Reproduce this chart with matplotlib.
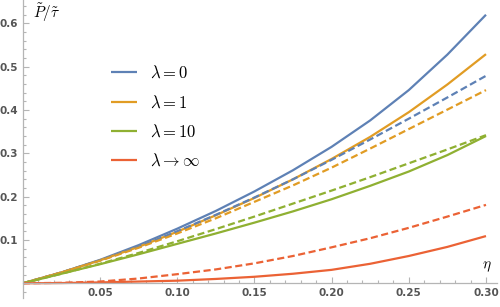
import matplotlib
matplotlib.use("Agg")
import matplotlib.pyplot as plt
from matplotlib.ticker import MultipleLocator, FixedLocator

plt.rcParams['mathtext.fontset'] = 'cm'

eta = [0.0, 0.025, 0.05, 0.075, 0.1, 0.125, 0.15, 0.175, 0.2, 0.225, 0.25, 0.275, 0.3]

# solid curves
p_l0 = [0, 0.025, 0.054, 0.088, 0.126, 0.167, 0.212, 0.261, 0.315, 0.376, 0.446, 0.528, 0.620]
p_l1 = [0, 0.025, 0.053, 0.084, 0.119, 0.157, 0.197, 0.240, 0.287, 0.338, 0.395, 0.459, 0.529]
p_l10 = [0, 0.022, 0.044, 0.067, 0.091, 0.115, 0.140, 0.166, 0.194, 0.225, 0.258, 0.296, 0.340]
p_linf = [0, 0.0005, 0.002, 0.004, 0.006, 0.010, 0.015, 0.022, 0.031, 0.045, 0.063, 0.084, 0.109]

# dashed curves
d_l0 = [0, 0.025, 0.053, 0.084, 0.120, 0.158, 0.198, 0.240, 0.285, 0.332, 0.380, 0.429, 0.479]
d_l1 = [0, 0.025, 0.052, 0.082, 0.115, 0.150, 0.188, 0.226, 0.267, 0.311, 0.356, 0.401, 0.446]
d_l10 = [0, 0.022, 0.045, 0.070, 0.097, 0.125, 0.154, 0.184, 0.214, 0.245, 0.277, 0.309, 0.342]
d_linf = [0, 0.001, 0.004, 0.011, 0.021, 0.032, 0.046, 0.063, 0.083, 0.104, 0.128, 0.154, 0.181]

labels = [r'$\lambda = 0$', r'$\lambda = 1$', r'$\lambda = 10$', r'$\lambda \to \infty$']
colors = ['#5E81B5', '#E19C24', '#8FB032', '#EB6235']

fig = plt.figure(figsize=(5, 3.07), dpi=100)
ax = fig.add_axes([0.0456, 0.0293, 0.948, 0.9707])

lw = 1.6
handles = []
for y, c, lab in zip([p_l0, p_l1, p_l10, p_linf], colors, labels):
    h, = ax.plot(eta, y, color=c, lw=lw, label=lab, solid_capstyle='butt')
    handles.append(h)
for y, c in zip([d_l0, d_l1, d_l10, d_linf], colors):
    ax.plot(eta, y, color=c, lw=lw, dashes=(3.2, 1.6))

ax.set_xlim(0, 0.307)
ax.set_ylim(-0.034, 0.654)

for s in ['top', 'right']:
    ax.spines[s].set_visible(False)
ax.spines['left'].set_position(('data', 0))
ax.spines['bottom'].set_position(('data', 0))
for s in ['left', 'bottom']:
    ax.spines[s].set_color('#b5b5b5')
    ax.spines[s].set_linewidth(0.9)

ax.xaxis.set_major_locator(FixedLocator([0.05, 0.10, 0.15, 0.20, 0.25, 0.30]))
ax.xaxis.set_minor_locator(MultipleLocator(0.01))
ax.yaxis.set_major_locator(FixedLocator([0.1, 0.2, 0.3, 0.4, 0.5, 0.6]))
ax.yaxis.set_minor_locator(MultipleLocator(0.02))
ax.set_xticklabels(['0.05', '0.10', '0.15', '0.20', '0.25', '0.30'])
ax.set_yticklabels(['0.1', '0.2', '0.3', '0.4', '0.5', '0.6'])

ax.tick_params(which='both', direction='in', color='#b5b5b5', width=0.8,
               labelsize=7.5, labelcolor='#555555', pad=3.5)
ax.tick_params(which='major', length=4.3)
ax.tick_params(which='minor', length=2.5)
for t in ax.get_xticklabels() + ax.get_yticklabels():
    t.set_fontweight('bold')

ax.text(0.0157, 0.624, r'$\tilde{P}/\tilde{\tau}$', fontsize=11, ha='center', va='center')
ax.text(0.3004, 0.038, r'$\eta$', fontsize=11, ha='center', va='center')

ax.legend(handles=handles, loc='upper left', bbox_to_anchor=(111 / 500, 1 - 64 / 307),
          bbox_transform=fig.transFigure, frameon=False, fontsize=12,
          handlelength=1.56, handletextpad=0.75, labelspacing=0.68,
          borderpad=0, borderaxespad=0)

fig.savefig('out.png', dpi=100)
